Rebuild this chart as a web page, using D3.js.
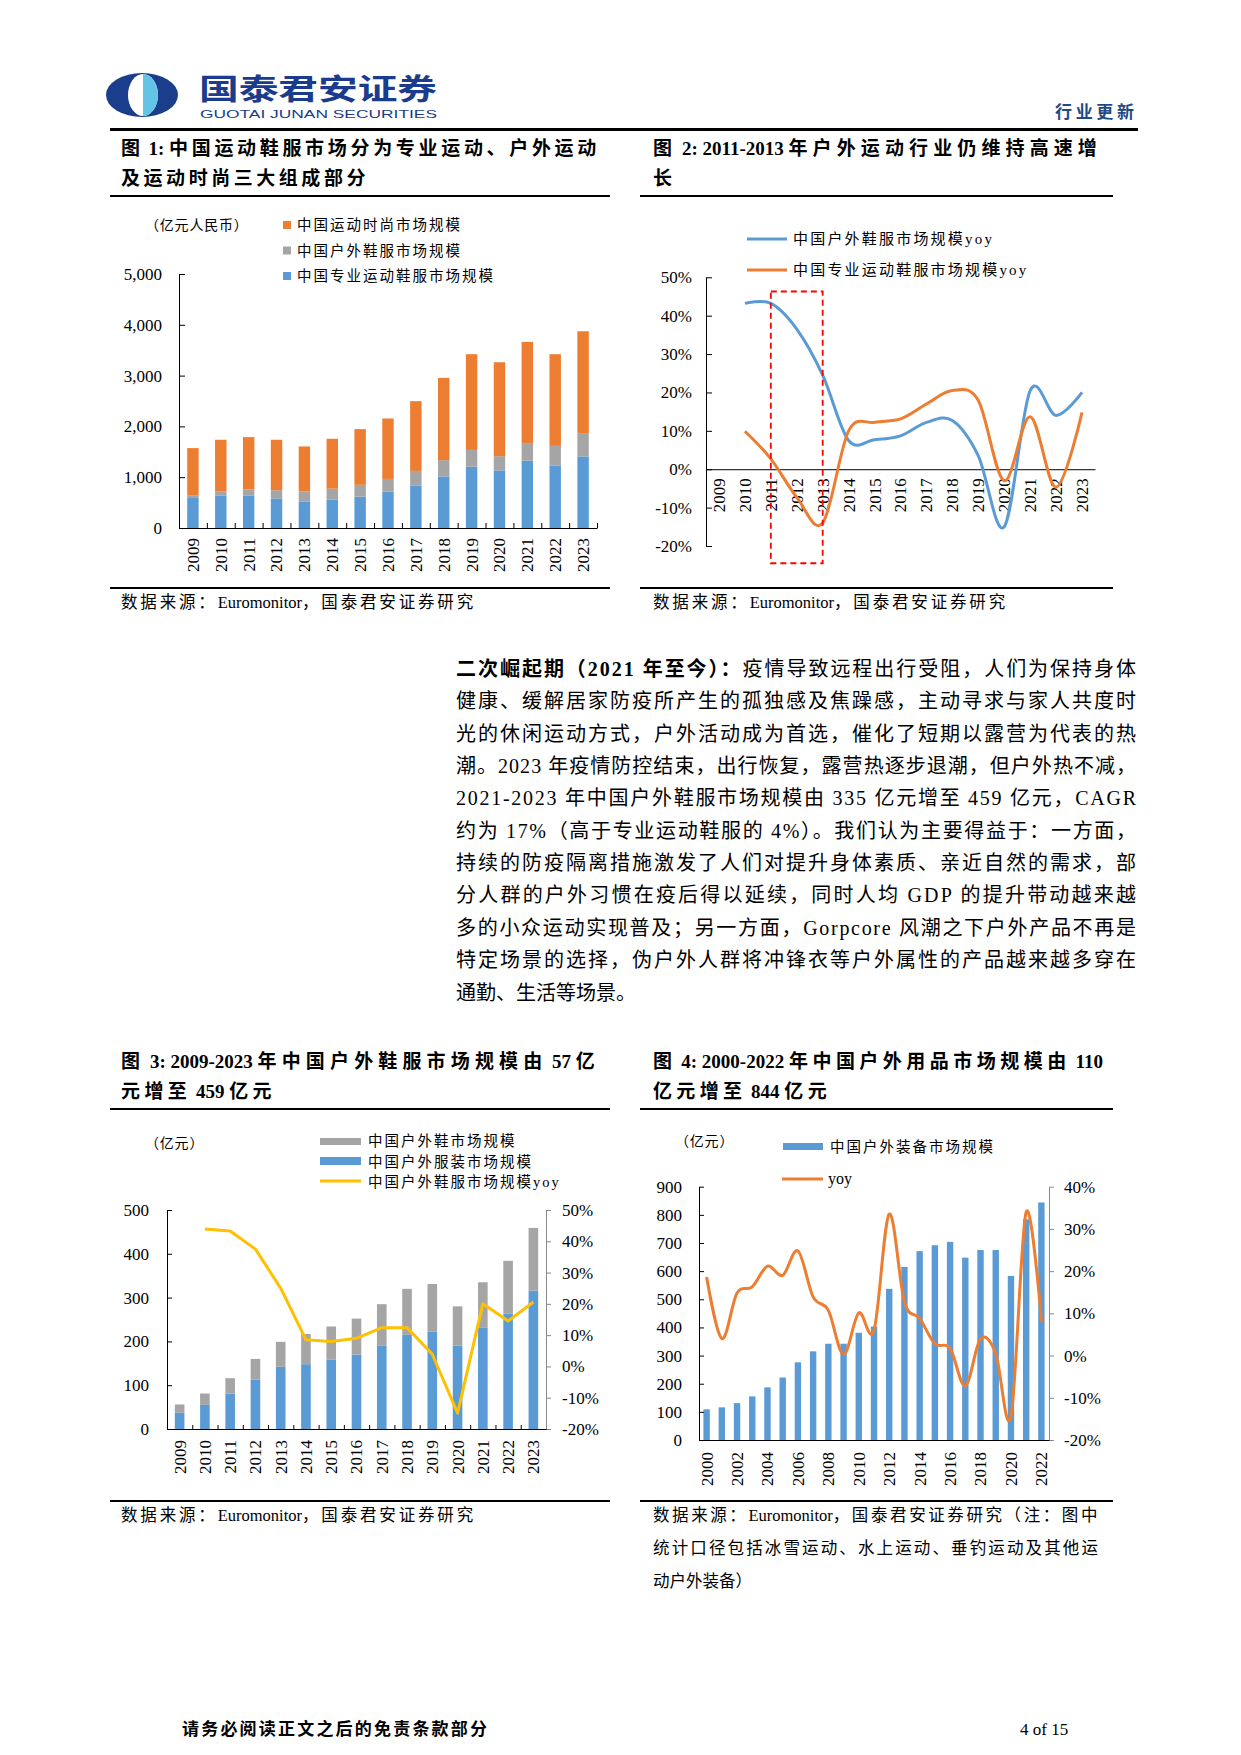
<!DOCTYPE html>
<html><head><meta charset="utf-8">
<script src="https://cdn.jsdelivr.net/npm/d3@7"></script>
<style>
body{margin:0;background:#fff;}
svg{display:block;}
text{font-family:"Liberation Serif","Noto Sans CJK SC",serif;}
</style></head><body>
<svg id="page" width="1241" height="1755"></svg>
<script>
// ---------------- DATA ----------------
const years0923 = ["2009","2010","2011","2012","2013","2014","2015","2016","2017","2018","2019","2020","2021","2022","2023"];
// Fig 1 (亿元人民币)
const proSportSeries   = [590, 642, 642, 583, 524, 557, 616, 714, 839, 1016, 1206, 1134, 1324, 1232, 1409];
const outdoorSeries    = [56, 81, 116, 160, 199, 217, 234, 252, 285, 320, 331, 280, 335, 384, 459];
const fashionSeries    = [927, 1014, 1031, 994, 882, 982, 1096, 1190, 1373, 1619, 1884, 1849, 2004, 1805, 2005];
const fig1Ticks = [0, 1000, 2000, 3000, 4000, 5000];
const fig1Legend = ["中国运动时尚市场规模", "中国户外鞋服市场规模", "中国专业运动鞋服市场规模"];
// Fig 2 yoy
const outdoorYoy = [null, 0.432, 0.432, 0.365, 0.245, 0.075, 0.077, 0.087, 0.122, 0.127, 0.035, -0.15, 0.205, 0.14, 0.20];
const proSportYoy = [null, 0.099, 0.027, -0.073, -0.14, 0.10, 0.122, 0.131, 0.17, 0.205, 0.179, -0.03, 0.137, -0.047, 0.148];
const fig2Ticks = [-0.2, -0.1, 0, 0.1, 0.2, 0.3, 0.4, 0.5];
const fig2Legend = ["中国户外鞋服市场规模yoy", "中国专业运动鞋服市场规模yoy"];
const highlightYears = ["2011", "2013"];
const highlightYoy = [0.463, -0.245];
// Fig 3 (亿元)
const outdoorShoes    = [19, 26, 35, 47, 57, 69, 76, 82, 95, 105, 109, 90, 104, 121, 143];
const outdoorClothing = [37, 55, 81, 113, 142, 148, 158, 170, 190, 215, 222, 190, 231, 263, 316];
const outdoorYoy3     = [null, 0.439, 0.433, 0.375, 0.25, 0.085, 0.08, 0.09, 0.124, 0.124, 0.039, -0.149, 0.20, 0.145, 0.206];
const fig3LeftTicks = [0, 100, 200, 300, 400, 500];
const fig3RightTicks = [-0.2, -0.1, 0, 0.1, 0.2, 0.3, 0.4, 0.5];
const fig3Legend = ["中国户外鞋市场规模", "中国户外服装市场规模", "中国户外鞋服市场规模yoy"];
// Fig 4 (亿元)
const years0022 = ["2000","2001","2002","2003","2004","2005","2006","2007","2008","2009","2010","2011","2012","2013","2014","2015","2016","2017","2018","2019","2020","2021","2022"];
const gearSeries = [109, 116, 131, 155, 187, 222, 276, 315, 342, 342, 381, 403, 537, 615, 671, 692, 704, 648, 675, 675, 583, 784, 844];
const gearYoy = [0.186, 0.04, 0.148, 0.163, 0.212, 0.19, 0.248, 0.139, 0.107, 0.002, 0.101, 0.06, 0.335, 0.127, 0.088, 0.028, 0.017, -0.072, 0.04, 0.005, -0.144, 0.34, 0.079];
const fig4LabelYears = ["2000","2002","2004","2006","2008","2010","2012","2014","2016","2018","2020","2022"];
const fig4LeftTicks = [0, 100, 200, 300, 400, 500, 600, 700, 800, 900];
const fig4RightTicks = [-0.2, -0.1, 0, 0.1, 0.2, 0.3, 0.4];
const fig4Legend = ["中国户外装备市场规模", "yoy"];

const bodyLines = [
  "健康、缓解居家防疫所产生的孤独感及焦躁感，主动寻求与家人共度时",
  "光的休闲运动方式，户外活动成为首选，催化了短期以露营为代表的热",
  "潮。2023 年疫情防控结束，出行恢复，露营热逐步退潮，但户外热不减，",
  "2021-2023 年中国户外鞋服市场规模由 335 亿元增至 459 亿元，CAGR",
  "约为 17%（高于专业运动鞋服的 4%）。我们认为主要得益于：一方面，",
  "持续的防疫隔离措施激发了人们对提升身体素质、亲近自然的需求，部",
  "分人群的户外习惯在疫后得以延续，同时人均 GDP 的提升带动越来越",
  "多的小众运动实现普及；另一方面，Gorpcore 风潮之下户外产品不再是",
  "特定场景的选择，伪户外人群将冲锋衣等户外属性的产品越来越多穿在",
  "通勤、生活等场景。"
];

// ---------------- STYLE ----------------
const COL = {blue:"#5B9BD5", orange:"#ED7D31", gray:"#A5A5A5", yellow:"#FFC000", navy:"#1B3C8C", axisGray:"#898989"};
const SERIF = "Liberation Serif, Noto Sans CJK SC, serif";
const pct = d => Math.round(d * 100) + "%";

const svg = d3.select("#page");
svg.append("rect").attr("width", 1241).attr("height", 1755).attr("fill", "#fff");
const defs = svg.append("defs");

// text whose CJK characters are spread to reach a target width, Latin runs kept tight
function spreadText(sel, str, target) {
  const runs = str.match(/[\u0000-\u00ff]+|[^\u0000-\u00ff]+/g);
  const spans = runs.map(r => sel.append("tspan").text(r).attr("data-cjk", /[^\u0000-\u00ff]/.test(r) ? 1 : 0));
  if (!target) return;
  const w0 = sel.node().getComputedTextLength();
  const n = runs.filter(r => /[^\u0000-\u00ff]/.test(r)).reduce((a, r) => a + r.length, 0);
  const s = n ? Math.max(0, (target - w0) / n) : 0;
  spans.forEach(sp => { if (sp.attr("data-cjk") === "1") sp.attr("letter-spacing", s); });
}

// ---------------- HEADER ----------------
defs.append("clipPath").attr("id", "lensR").append("rect").attr("x", 143).attr("y", 70).attr("width", 40).attr("height", 50);
const logo = svg.append("g");
logo.append("ellipse").attr("cx", 142).attr("cy", 95).attr("rx", 36).attr("ry", 22).attr("fill", "#1A3E8C");
logo.append("ellipse").attr("cx", 143).attr("cy", 95).attr("rx", 15).attr("ry", 21).attr("fill", "#fff");
logo.append("ellipse").attr("cx", 143).attr("cy", 95).attr("rx", 15).attr("ry", 21).attr("fill", "#63C4E6").attr("clip-path", "url(#lensR)");
svg.append("text").attr("x", 199).attr("y", 100).attr("font-size", 29).attr("font-weight", "bold")
  .style("font-family", "Noto Sans CJK SC").attr("fill", COL.navy)
  .attr("textLength", 238).attr("lengthAdjust", "spacingAndGlyphs").text("国泰君安证券");
svg.append("text").attr("x", 200).attr("y", 118).attr("font-size", 11).style("font-family", "Liberation Sans, DejaVu Sans")
  .attr("fill", COL.navy).attr("textLength", 237).attr("lengthAdjust", "spacingAndGlyphs").text("GUOTAI JUNAN SECURITIES");
svg.append("text").attr("x", 1055).attr("y", 118).attr("font-size", 17).attr("font-weight", "bold")
  .attr("fill", "#1F4A86").attr("textLength", 79).text("行业更新");
svg.append("rect").attr("x", 110).attr("y", 128).attr("width", 1028).attr("height", 3).attr("fill", "#000");

// ---------------- HELPERS ----------------
function title(x, y1, l1, l2, w1, w2, lineX, lineW, lineY) {
  const t1 = svg.append("text").attr("x", x).attr("y", y1).attr("font-size", 19).attr("font-weight", "bold");
  spreadText(t1, l1, w1);
  const t2 = svg.append("text").attr("x", x).attr("y", y1 + 30).attr("font-size", 19).attr("font-weight", "bold");
  spreadText(t2, l2, w2);
  svg.append("rect").attr("x", lineX).attr("y", lineY).attr("width", lineW).attr("height", 2).attr("fill", "#000");
}
function source(lineX, lineW, lineY, x, lines, widths) {
  svg.append("rect").attr("x", lineX).attr("y", lineY).attr("width", lineW).attr("height", 2).attr("fill", "#000");
  lines.forEach((t, i) => {
    const el = svg.append("text").attr("x", x).attr("y", lineY + 21 + i * 33).attr("font-size", 16.5);
    spreadText(el, t, widths[i]);
  });
}
function styleAxis(g, size) {
  g.attr("font-family", SERIF).attr("font-size", size || 17).attr("color", "#000");
  g.selectAll("text").attr("fill", "#000");
}
function rotateLabels(g, gap) {
  g.selectAll(".tick text").attr("transform", "rotate(-90)").attr("text-anchor", "end")
    .attr("x", -gap).attr("y", 0).attr("dy", "0.35em");
}

// ---------------- FIG 1 ----------------
title(121, 155, "图 1:  中国运动鞋服市场分为专业运动、户外运动", "及运动时尚三大组成部分", 479, 248, 110, 500, 195);
{
  const x = d3.scaleBand().domain(years0923).range([179, 597]);
  const y = d3.scaleLinear().domain([0, 5000]).range([528, 274]);
  const rows = years0923.map((yr, i) => ({year: yr, pro: proSportSeries[i], outdoor: outdoorSeries[i], fashion: fashionSeries[i]}));
  const stack = d3.stack().keys(["pro", "outdoor", "fashion"])(rows);
  const colors = {pro: COL.blue, outdoor: COL.gray, fashion: COL.orange};
  const bw = x.step() * 0.41;
  svg.append("g").selectAll("g").data(stack).join("g").attr("fill", d => colors[d.key])
    .selectAll("rect").data(d => d).join("rect")
    .attr("x", d => x(d.data.year) + (x.step() - bw) / 2).attr("width", bw)
    .attr("y", d => y(d[1])).attr("height", d => y(d[0]) - y(d[1]));
  const gy = svg.append("g").attr("transform", "translate(179,0)")
    .call(d3.axisLeft(y).tickValues(fig1Ticks).tickFormat(d3.format(",")).tickSize(-6).tickSizeOuter(0).tickPadding(17));
  styleAxis(gy);
  const idx = d3.scaleLinear().domain([0, years0923.length]).range(x.range());
  const gt = svg.append("g").attr("transform", "translate(0,528)")
    .call(d3.axisBottom(idx).tickValues(d3.range(1, years0923.length + 1)).tickSize(-5).tickSizeOuter(0).tickFormat(""));
  styleAxis(gt);
  const gx = svg.append("g").attr("transform", "translate(0,528)").call(d3.axisBottom(x).tickSize(0));
  gx.select(".domain").remove();
  styleAxis(gx); rotateLabels(gx, 10);
  svg.append("text").attr("x", 145).attr("y", 230).attr("font-size", 14).attr("letter-spacing", 0.8).text("（亿元人民币）");
  const legCols = [COL.orange, COL.gray, COL.blue];
  fig1Legend.forEach((t, i) => {
    svg.append("rect").attr("x", 283).attr("y", 221 + i * 25.5).attr("width", 8).attr("height", 8).attr("fill", legCols[i]);
    svg.append("text").attr("x", 297).attr("y", 230 + i * 25.5).attr("font-size", 14.5).attr("letter-spacing", 2).text(t);
  });
}
source(110, 500, 587, 121, ["数据来源：Euromonitor，国泰君安证券研究"], [355]);

// ---------------- FIG 2 ----------------
title(653, 155, "图 2:  2011-2013 年户外运动行业仍维持高速增", "长", 449, 0, 640, 473, 195);
{
  const x = d3.scaleBand().domain(years0923).range([706, 1095]);
  const y = d3.scaleLinear().domain([-0.2, 0.5]).range([546, 277.3]);
  const cx = d => x(d) + x.bandwidth() / 2;
  const gy = svg.append("g").attr("transform", "translate(706,0)")
    .call(d3.axisLeft(y).tickValues(fig2Ticks).tickFormat(pct).tickSize(-6).tickSizeOuter(0).tickPadding(14));
  styleAxis(gy);
  const gx = svg.append("g").attr("transform", `translate(0,${y(0)})`).call(d3.axisBottom(x).tickSize(0).tickSizeOuter(0));
  styleAxis(gx); rotateLabels(gx, 9);
  const series = [[outdoorYoy, COL.blue], [proSportYoy, COL.orange]];
  series.forEach(([vals, c]) => {
    const pts = years0923.map((yr, i) => [yr, vals[i]]).filter(p => p[1] !== null);
    svg.append("path").datum(pts).attr("fill", "none").attr("stroke", c).attr("stroke-width", 3)
      .attr("d", d3.line().x(d => cx(d[0])).y(d => y(d[1])).curve(d3.curveCardinal.tension(0)));
  });
  svg.append("rect").attr("x", cx(highlightYears[0])).attr("y", y(highlightYoy[0]))
    .attr("width", cx(highlightYears[1]) - cx(highlightYears[0])).attr("height", y(highlightYoy[1]) - y(highlightYoy[0]))
    .attr("fill", "none").attr("stroke", "#FF0000").attr("stroke-width", 1.8).attr("stroke-dasharray", "6,4");
  fig2Legend.forEach((t, i) => {
    const yy = 239 + i * 31;
    svg.append("line").attr("x1", 747).attr("x2", 787).attr("y1", yy).attr("y2", yy)
      .attr("stroke", i === 0 ? COL.blue : COL.orange).attr("stroke-width", 3);
    svg.append("text").attr("x", 793).attr("y", yy + 5).attr("font-size", 15).attr("letter-spacing", 2.2).text(t);
  });
}
source(640, 473, 587, 653, ["数据来源：Euromonitor，国泰君安证券研究"], [355]);

// ---------------- BODY TEXT ----------------
{
  const bx = 456, bw = 680, by0 = 676, step = 32.35;
  const t0 = svg.append("text").attr("x", bx).attr("y", by0).attr("font-size", 20)
    .attr("textLength", bw).attr("lengthAdjust", "spacing");
  t0.append("tspan").attr("font-weight", "bold").text("二次崛起期（2021 年至今）：");
  t0.append("tspan").text("疫情导致远程出行受阻，人们为保持身体");
  bodyLines.forEach((t, i) => {
    const el = svg.append("text").attr("x", bx).attr("y", by0 + (i + 1) * step).attr("font-size", 20).text(t);
    if (i < bodyLines.length - 1) el.attr("textLength", bw).attr("lengthAdjust", "spacing");
  });
}

// ---------------- FIG 3 ----------------
title(121, 1068, "图 3:  2009-2023 年中国户外鞋服市场规模由 57 亿", "元增至 459 亿元", 479, 155, 110, 500, 1108);
{
  const x = d3.scaleBand().domain(years0923).range([167, 546]);
  const y = d3.scaleLinear().domain([0, 500]).range([1429, 1210]);
  const yR = d3.scaleLinear().domain([-0.2, 0.5]).range([1429, 1210]);
  const rows = years0923.map((yr, i) => ({year: yr, clothing: outdoorClothing[i], shoes: outdoorShoes[i]}));
  const stack = d3.stack().keys(["clothing", "shoes"])(rows);
  const colors = {clothing: COL.blue, shoes: COL.gray};
  const bw = x.step() * 0.38;
  svg.append("g").selectAll("g").data(stack).join("g").attr("fill", d => colors[d.key])
    .selectAll("rect").data(d => d).join("rect")
    .attr("x", d => x(d.data.year) + (x.step() - bw) / 2).attr("width", bw)
    .attr("y", d => y(d[1])).attr("height", d => y(d[0]) - y(d[1]));
  const gy = svg.append("g").attr("transform", "translate(167,0)")
    .call(d3.axisLeft(y).tickValues(fig3LeftTicks).tickSize(-5).tickSizeOuter(0).tickPadding(18));
  styleAxis(gy);
  const gr = svg.append("g").attr("transform", "translate(546,0)")
    .call(d3.axisRight(yR).tickValues(fig3RightTicks).tickFormat(pct).tickSize(5).tickSizeOuter(0).tickPadding(11));
  styleAxis(gr); gr.attr("color", COL.axisGray);
  const idx = d3.scaleLinear().domain([0, years0923.length]).range(x.range());
  const gt = svg.append("g").attr("transform", "translate(0,1429)")
    .call(d3.axisBottom(idx).tickValues(d3.range(1, years0923.length)).tickSize(-4).tickSizeOuter(0).tickFormat(""));
  styleAxis(gt);
  const gx = svg.append("g").attr("transform", "translate(0,1429)").call(d3.axisBottom(x).tickSize(0));
  gx.select(".domain").remove();
  styleAxis(gx); rotateLabels(gx, 11);
  const cx = d => x(d) + x.bandwidth() / 2;
  const pts = years0923.map((yr, i) => [yr, outdoorYoy3[i]]).filter(p => p[1] !== null);
  svg.append("path").datum(pts).attr("fill", "none").attr("stroke", COL.yellow).attr("stroke-width", 3)
    .attr("stroke-linejoin", "round").attr("d", d3.line().x(d => cx(d[0])).y(d => yR(d[1])));
  svg.append("text").attr("x", 145).attr("y", 1148).attr("font-size", 14).attr("letter-spacing", 0.8).text("（亿元）");
  svg.append("rect").attr("x", 320).attr("y", 1138).attr("width", 41).attr("height", 7).attr("fill", COL.gray);
  svg.append("rect").attr("x", 320).attr("y", 1157).attr("width", 41).attr("height", 8).attr("fill", COL.blue);
  svg.append("line").attr("x1", 320).attr("x2", 361).attr("y1", 1181).attr("y2", 1181).attr("stroke", COL.yellow).attr("stroke-width", 3);
  fig3Legend.forEach((t, i) => {
    svg.append("text").attr("x", 368).attr("y", 1146 + i * 20.5).attr("font-size", 14.5).attr("letter-spacing", 2).text(t);
  });
}
source(110, 500, 1500, 121, ["数据来源：Euromonitor，国泰君安证券研究"], [355]);

// ---------------- FIG 4 ----------------
title(653, 1068, "图 4: 2000-2022 年中国户外用品市场规模由 110", "亿元增至 844 亿元", 450, 178, 640, 473, 1108);
{
  const x = d3.scaleBand().domain(years0022).range([699, 1049]);
  const y = d3.scaleLinear().domain([0, 900]).range([1440, 1186.7]);
  const yR = d3.scaleLinear().domain([-0.2, 0.4]).range([1440, 1186.7]);
  const bw = x.step() * 0.42;
  svg.append("g").attr("fill", COL.blue).selectAll("rect").data(years0022).join("rect")
    .attr("x", d => x(d) + (x.step() - bw) / 2).attr("width", bw)
    .attr("y", (d, i) => y(gearSeries[i])).attr("height", (d, i) => y(0) - y(gearSeries[i]));
  const gy = svg.append("g").attr("transform", "translate(699,0)")
    .call(d3.axisLeft(y).tickValues(fig4LeftTicks).tickSize(-5).tickSizeOuter(0).tickPadding(17));
  styleAxis(gy);
  const gr = svg.append("g").attr("transform", "translate(1049,0)")
    .call(d3.axisRight(yR).tickValues(fig4RightTicks).tickFormat(pct).tickSize(5).tickSizeOuter(0).tickPadding(10));
  styleAxis(gr); gr.attr("color", COL.axisGray);
  const gx = svg.append("g").attr("transform", "translate(0,1440)")
    .call(d3.axisBottom(x).tickValues(fig4LabelYears).tickSize(0).tickSizeOuter(0));
  styleAxis(gx); rotateLabels(gx, 12);
  const cx = d => x(d) + x.bandwidth() / 2;
  const pts = years0022.map((yr, i) => [yr, gearYoy[i]]);
  svg.append("path").datum(pts).attr("fill", "none").attr("stroke", COL.orange).attr("stroke-width", 3)
    .attr("d", d3.line().x(d => cx(d[0])).y(d => yR(d[1])).curve(d3.curveCardinal.tension(0)));
  svg.append("text").attr("x", 675).attr("y", 1146).attr("font-size", 14).attr("letter-spacing", 0.8).text("（亿元）");
  svg.append("rect").attr("x", 783).attr("y", 1143).attr("width", 40).attr("height", 7).attr("fill", COL.blue);
  svg.append("text").attr("x", 830).attr("y", 1152).attr("font-size", 14.5).attr("letter-spacing", 2).text(fig4Legend[0]);
  svg.append("line").attr("x1", 782).attr("x2", 823).attr("y1", 1179).attr("y2", 1179).attr("stroke", COL.orange).attr("stroke-width", 3);
  svg.append("text").attr("x", 828).attr("y", 1184).attr("font-size", 16).text(fig4Legend[1]);
}
source(640, 473, 1500, 653, ["数据来源：Euromonitor，国泰君安证券研究（注：图中", "统计口径包括冰雪运动、水上运动、垂钓运动及其他运", "动户外装备）"], [447, 447, 0]);

// ---------------- FOOTER ----------------
svg.append("text").attr("x", 182).attr("y", 1735).attr("font-size", 17).attr("font-weight", "bold")
  .attr("textLength", 305).attr("lengthAdjust", "spacing").text("请务必阅读正文之后的免责条款部分");
svg.append("text").attr("x", 1020).attr("y", 1735).attr("font-size", 17).text("4 of 15");
</script>
</body></html>
